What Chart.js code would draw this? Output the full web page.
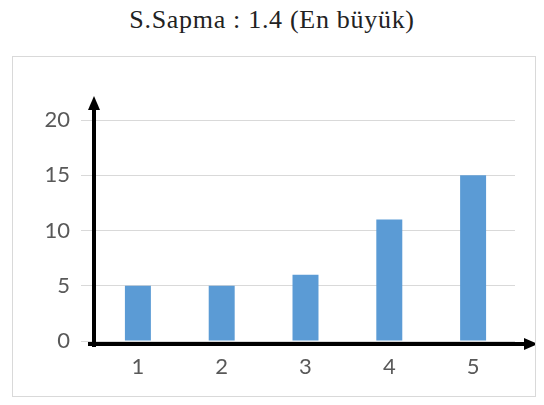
<!DOCTYPE html>
<html lang="tr">
<head>
<meta charset="UTF-8">
<title>S.Sapma</title>
<script src="https://cdn.jsdelivr.net/npm/chart.js"></script>
<style>
    body { margin: 0; background: #fff; }
    #title {
        position: absolute; left: 0; top: 5px; width: 544px;
        text-align: center; font-family: "Liberation Serif", serif; font-size: 26px;
        letter-spacing: 0.7px; color: #222;
    }
    #box {
        position: absolute; left: 12px; top: 56px; width: 522px; height: 339px;
        border: 1px solid #d9d9d9;
    }
</style>
</head>
<body>
<div id="title">S.Sapma : 1.4 (En büyük)</div>
<div id="box"><canvas id="myChart" width="522" height="339"></canvas></div>
<script>
    // veriler
    const categories = ['1', '2', '3', '4', '5'];
    const values = [5, 5, 6, 11, 15];
    const yTicks = [0, 5, 10, 15, 20];

    // siyah ok eksenleri
    const arrowAxes = {
        id: 'arrowAxes',
        afterDatasetsDraw(chart) {
            const { ctx, chartArea: a } = chart;
            const xl = a.left - 2, yb = a.bottom + 3;
            ctx.save();
            ctx.strokeStyle = '#000';
            ctx.fillStyle = '#000';
            ctx.lineWidth = 4;
            ctx.beginPath();
            ctx.moveTo(xl, a.bottom + 6);
            ctx.lineTo(xl, a.top - 14);
            ctx.moveTo(a.left - 8, yb);
            ctx.lineTo(a.right + 12, yb);
            ctx.stroke();
            ctx.beginPath();
            ctx.moveTo(xl, a.top - 24);
            ctx.lineTo(xl - 6, a.top - 10);
            ctx.lineTo(xl + 6, a.top - 10);
            ctx.closePath();
            ctx.fill();
            ctx.beginPath();
            ctx.moveTo(a.right + 23, yb);
            ctx.lineTo(a.right + 9, yb - 6);
            ctx.lineTo(a.right + 9, yb + 6);
            ctx.closePath();
            ctx.fill();
            ctx.restore();
        }
    };

    const ctx = document.getElementById('myChart').getContext('2d');
    new Chart(ctx, {
        type: 'bar',
        data: {
            labels: categories,
            datasets: [{
                data: values,
                backgroundColor: '#5b9bd5',
                categoryPercentage: 1,
                barPercentage: 0.31
            }]
        },
        options: {
            responsive: false,
            animation: false,
            layout: { padding: { top: 63, right: 20, left: 0, bottom: 0 } },
            plugins: { legend: { display: false }, tooltip: { enabled: false } },
            scales: {
                x: {
                    grid: { display: false },
                    border: { display: false },
                    ticks: { color: '#595959', font: { family: 'Lato', size: 22 }, padding: 5 },
                    afterFit: s => { s.height = 55; }
                },
                y: {
                    min: 0, max: 20,
                    afterBuildTicks: s => { s.ticks = yTicks.map(v => ({ value: v })); },
                    grid: { color: '#d9d9d9', tickLength: 15, tickColor: '#d9d9d9' },
                    border: { display: false },
                    ticks: { color: '#595959', font: { family: 'Lato', size: 22 }, padding: 11 },
                    afterFit: s => { s.width = 83; }
                }
            }
        },
        plugins: [arrowAxes]
    });
</script>
</body>
</html>
